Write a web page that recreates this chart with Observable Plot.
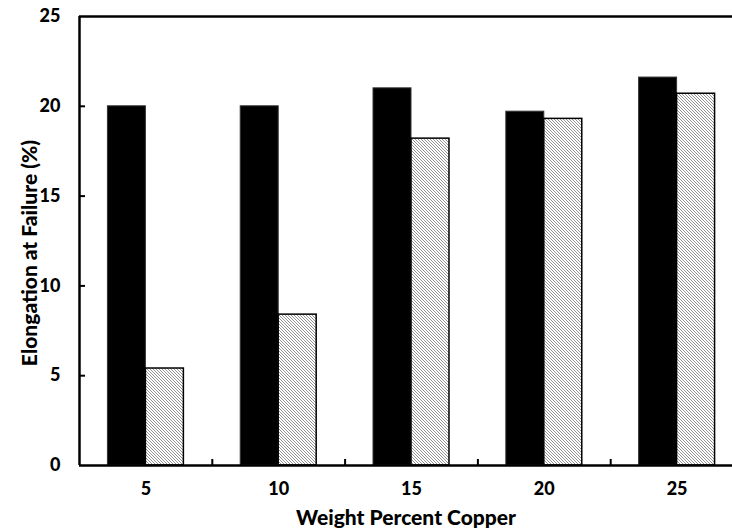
<!DOCTYPE html>
<html><head><meta charset="utf-8">
<script src="https://cdn.jsdelivr.net/npm/d3@7"></script>
<script src="https://cdn.jsdelivr.net/npm/@observablehq/plot@0.6"></script>
<style>html,body{margin:0;padding:0;overflow:hidden;background:#fff}</style>
</head><body><div id="chart"></div>
<script>
const copper = [5, 10, 15, 20, 25];
const solidValues = [20.0, 20.0, 21.0, 19.7, 21.6];
const hatchedValues = [5.4, 8.4, 18.2, 19.3, 20.7];
const yTicks = [0, 5, 10, 15, 20, 25];
const yInnerTicks = [5, 10, 15, 20];
const xDividers = [7.5, 12.5, 17.5, 22.5];
const xLabel = "Weight Percent Copper";
const yLabel = "Elongation at Failure (%)";

const barW = 1.43;
const solidRows = copper.map((c, i) => ({c, v: solidValues[i]}));
const hatchedRows = copper.map((c, i) => ({c, v: hatchedValues[i]}));

const chart = Plot.plot({
  width: 732, height: 532,
  marginLeft: 79, marginRight: 0, marginTop: 16, marginBottom: 67,
  style: {fontFamily: "Lato, sans-serif", fontWeight: "900", fontSize: "18px", color: "black", background: "white"},
  x: {domain: [2.5, 27.5], range: [79, 743]},
  y: {domain: [0, 25]},
  marks: [
    Plot.rectY(solidRows, {x1: d => d.c - barW, x2: d => d.c, y: "v", fill: "black", stroke: "#333", strokeWidth: 1}),
    Plot.rectY(hatchedRows, {x1: d => d.c, x2: d => d.c + barW, y: "v", fill: "url(#hatch)", stroke: "black", strokeWidth: 1.5}),
    Plot.axisY(yTicks, {tickSize: 0, tickPadding: 19, label: null, fontSize: 18, fontWeight: "900"}),
    Plot.axisY(yInnerTicks, {tickSize: -6, text: null, label: null, strokeWidth: 2}),
    Plot.axisX(copper, {tickSize: 0, tickPadding: 17, tickFormat: d => String(d), label: null, fontSize: 18, fontWeight: "900"}),
    Plot.axisX(xDividers, {tickSize: -6, text: null, label: null, strokeWidth: 2}),
    Plot.ruleY([0, 25], {strokeWidth: 2.5}),
    Plot.ruleX([2.5], {strokeWidth: 2.5}),
    Plot.text([xLabel], {frameAnchor: "bottom", textAnchor: "middle", lineAnchor: "middle", dy: 53, fontSize: 21, fontWeight: "900"}),
    Plot.text([yLabel], {frameAnchor: "left", textAnchor: "middle", lineAnchor: "middle", rotate: -90, dx: -49, dy: 12, fontSize: 21, fontWeight: "900"})
  ]
});

const defs = d3.select(chart).insert("defs", ":first-child");
const pat = defs.append("pattern").attr("id", "hatch").attr("patternUnits", "userSpaceOnUse").attr("width", 3).attr("height", 3);
pat.append("rect").attr("width", 3).attr("height", 3).attr("fill", "#fff");
pat.append("path").attr("d", "M-1,-1L4,4M-1,2L1,4M2,-1L4,1").attr("stroke", "#777").attr("stroke-width", 0.8);

document.getElementById("chart").appendChild(chart);
</script>
</body></html>
